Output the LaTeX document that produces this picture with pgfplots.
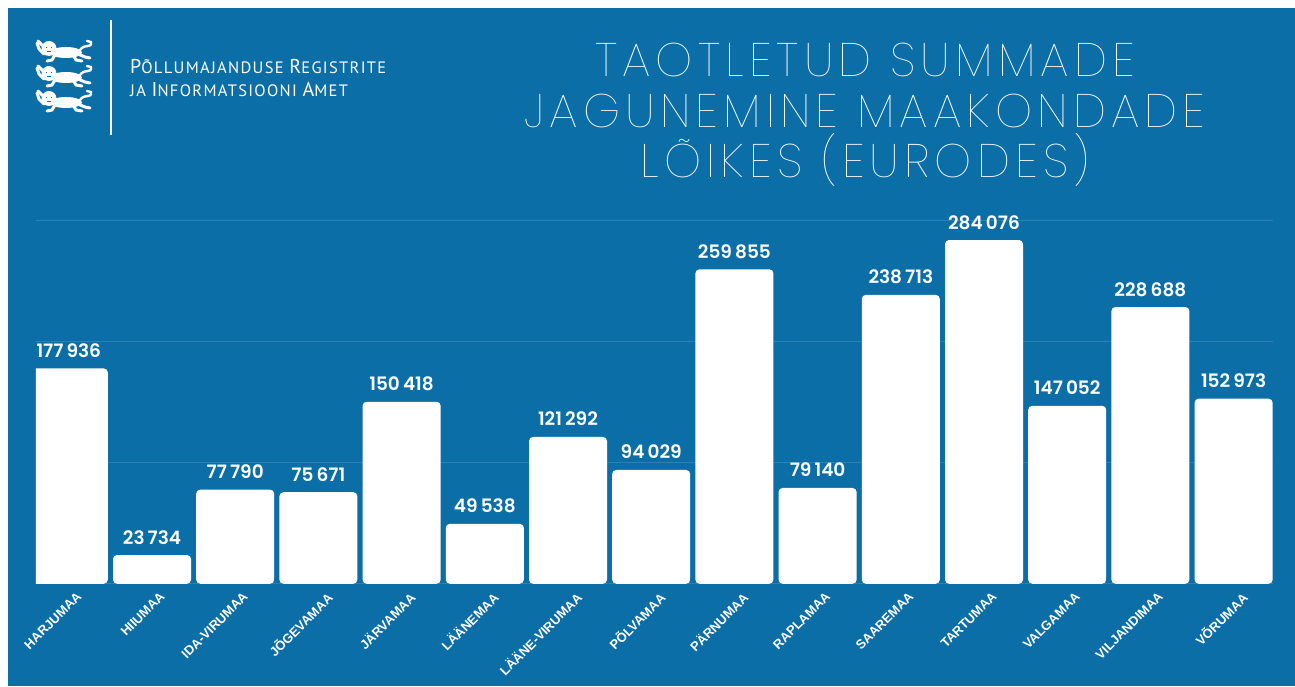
\documentclass[border=0pt]{standalone}
\usepackage{fontspec}
\setmainfont{Poppins}[BoldFont={* SemiBold}]
\newfontfamily\labfont{Liberation Sans}
\newfontfamily\titfont{Poppins}[UprightFont={* Thin}, LetterSpace=11]
\newfontfamily\logofont{PT Sans}[LetterSpace=8]
\usepackage{pgfplots}
\pgfplotsset{compat=1.18}
\definecolor{bg}{RGB}{11,110,166}
\definecolor{gridc}{RGB}{43,128,180}
\newcommand{\lion}{%
  \fill (14,8.5) circle (7.5);
  \fill (31,12.5) ellipse (16 and 5.5);
  \draw[line width=3pt,line cap=round] (9,14) -- (4,9) -- (2,3);
  \draw[line width=3pt,line cap=round] (8,6) -- (3,1);
  \draw[line width=3pt,line cap=round] (20,15) -- (17,20) -- (12,21);
  \draw[line width=3pt,line cap=round] (38,15) -- (41,20) -- (47,21);
  \draw[line width=3pt,line cap=round] (43,14) -- (50,17) -- (55,18);
  \draw[line width=2.4pt,line cap=round] (45,10) .. controls (50,3) and (57,9) .. (56,2) -- (52,1);
  \draw[bg, line width=0.8pt] (11,7) -- (12,7) (16,7) -- (17,7) (12,11.5) -- (16,11.5);
}
\newcommand{\bigc}{\fontsize{20}{20}\selectfont}
\newcommand{\smallc}{\fontsize{16.5}{16.5}\selectfont}
\begin{document}
\begin{tikzpicture}[x=1pt,y=1pt]
\fill[white] (0,0) rectangle (1295,686);
\fill[bg] (8,0) rectangle (1295,678);
% logo
\begin{scope}[white]
  \foreach \yy in {40,65,90} {
    \begin{scope}[shift={(35,686-\yy)},yscale=-1]
      \lion
    \end{scope}
  }
\end{scope}
\draw[white, line width=1.8pt] (111,666) -- (111,551);
\node[anchor=base west, text=white, inner sep=0] at (130,612) {\logofont\bigc P\smallc ÕLLUMAJANDUSE \bigc R\smallc EGISTRITE};
\node[anchor=base west, text=white, inner sep=0] at (130,589) {\logofont\smallc JA \bigc I\smallc NFORMATSIOONI \bigc A\smallc MET};
% title
\node[anchor=base, text=white, inner sep=0] at (865,609) {\titfont\fontsize{47}{47}\selectfont TAOTLETUD SUMMADE};
\node[anchor=base, text=white, inner sep=0] at (865,558) {\titfont\fontsize{47}{47}\selectfont JAGUNEMINE MAAKONDADE};
\node[anchor=base, text=white, inner sep=0] at (865,508) {\titfont\fontsize{47}{47}\selectfont LÕIKES (EURODES)};
\begin{axis}[
  at={(43,84.5)}, anchor=south west,
  scale only axis, width=1237pt, height=399.3pt,
  xmin=-0.397, xmax=14.471, ymin=0, ymax=330000,
  axis line style={draw=none},
  major tick style={draw=none},
  ytick={0,100000,200000,300000},
  yticklabels={},
  scaled y ticks=false,
  ymajorgrids,
  grid style={gridc, line width=0.9pt},
  xtick={0,...,14},
  xticklabels={HARJUMAA,HIIUMAA,IDA-VIRUMAA,JÕGEVAMAA,JÄRVAMAA,LÄÄNEMAA,LÄÄNE-VIRUMAA,PÕLVAMAA,PÄRNUMAA,RAPLAMAA,SAAREMAA,TARTUMAA,VALGAMAA,VILJANDIMAA,VÕRUMAA},
  xticklabel style={rotate=45, anchor=north east, text=white, font=\labfont\bfseries\fontsize{13}{13}\selectfont, inner sep=1pt, xshift=4pt, yshift=-6pt},
  ybar, bar width=0.9375,
  /pgf/number format/assume math mode=true,
  nodes near coords={\pgfmathprintnumber[fixed, precision=0, 1000 sep={\,}]{\pgfplotspointmeta}},
  nodes near coords style={text=white, font=\bfseries\fontsize{18.5}{18.5}\selectfont, inner sep=0pt, yshift=11pt, anchor=base},
]
\addplot[fill=white, draw=none, rounded corners=4pt] coordinates {
(0,177936) (1,23734) (2,77790) (3,75671) (4,150418) (5,49538) (6,121292) (7,94029)
(8,259855) (9,79140) (10,238713) (11,284076) (12,147052) (13,228688) (14,152973)};
\end{axis}
\pgfresetboundingbox
\path[use as bounding box] (0,0) rectangle (1295,686);
\end{tikzpicture}
\end{document}
